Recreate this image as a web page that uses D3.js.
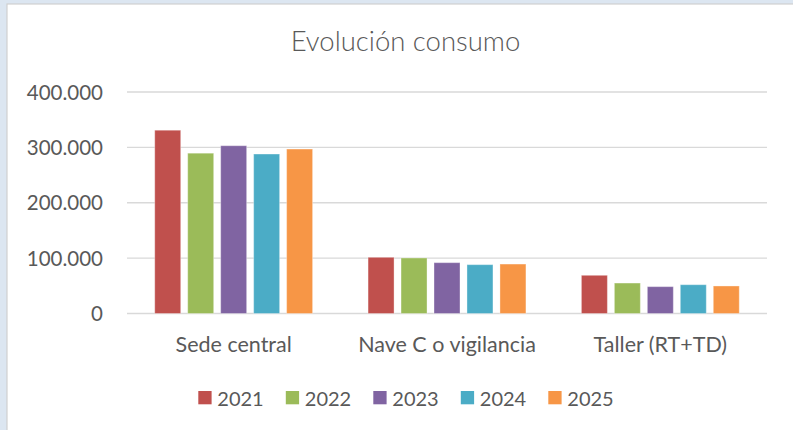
<!DOCTYPE html>
<html lang="es">
<head>
<meta charset="UTF-8">
<title>Evolución consumo</title>
<script src="https://d3js.org/d3.v7.min.js"></script>
<style>
    body { margin: 0; padding: 0; background: #dce6f1; overflow: hidden; }
    svg { display: block; }
    .lbl { font-family: Lato, "Open Sans", sans-serif; fill: #595959; }
</style>
</head>
<body>
<svg id="chart" width="793" height="430"></svg>
<script>
    // data
    const categories = ["Sede central", "Nave C o vigilancia", "Taller (RT+TD)"];
    const years = ["2021", "2022", "2023", "2024", "2025"];
    const values2021 = [331000, 101500, 69000];
    const values2022 = [289500, 100300, 55000];
    const values2023 = [303000, 91800, 48500];
    const values2024 = [288000, 88200, 52000];
    const values2025 = [297000, 89300, 49700];
    const yTicks = [0, 100000, 200000, 300000, 400000];
    const colors = ["#c0504d", "#9bbb59", "#8064a2", "#4bacc6", "#f79646"];

    const series = [values2021, values2022, values2023, values2024, values2025];

    const svg = d3.select("#chart");

    // frame: light blue strip on the left and top, white chart area
    svg.append("rect").attr("x", 0).attr("y", 0).attr("width", 793).attr("height", 430).attr("fill", "#dce6f1");
    svg.append("rect").attr("x", 7).attr("y", 4).attr("width", 800).attr("height", 440)
        .attr("fill", "#ffffff").attr("stroke", "#d0d0d0").attr("stroke-width", 1.2);

    const plot = { left: 127, right: 767, top: 92, bottom: 313.5 };

    const y = d3.scaleLinear().domain([0, 400000]).range([plot.bottom, plot.top]);
    const x0 = d3.scaleBand().domain(categories).range([plot.left, plot.right])
        .paddingInner(0.26).paddingOuter(0.13);
    const x1 = d3.scaleBand().domain(years).range([0, x0.bandwidth()])
        .paddingInner(0.212).paddingOuter(0);
    const color = d3.scaleOrdinal().domain(years).range(colors);

    const fmt = v => v === 0 ? "0" : d3.format(",")(v).replace(/,/g, ".");

    // gridlines
    svg.append("g").selectAll("line").data(yTicks).join("line")
        .attr("x1", plot.left).attr("x2", plot.right)
        .attr("y1", d => y(d)).attr("y2", d => y(d))
        .attr("stroke", "#d9d9d9").attr("stroke-width", 1.3);

    // y tick labels
    svg.append("g").selectAll("text").data(yTicks).join("text")
        .attr("class", "lbl")
        .attr("x", 103).attr("y", d => y(d)).attr("dy", "0.37em")
        .attr("text-anchor", "end").style("font-size", "20.5px")
        .text(fmt);

    // bars
    const rows = [];
    categories.forEach((c, i) => {
        years.forEach((yr, j) => rows.push({ cat: c, year: yr, value: series[j][i] }));
    });
    svg.append("g").selectAll("rect").data(rows).join("rect")
        .attr("x", d => x0(d.cat) + x1(d.year))
        .attr("y", d => y(d.value))
        .attr("width", x1.bandwidth())
        .attr("height", d => y(0) - y(d.value))
        .attr("fill", d => color(d.year))
        .attr("stroke", "#ffffff").attr("stroke-opacity", 0.35).attr("stroke-width", 1);

    // category labels
    svg.append("g").selectAll("text").data(categories).join("text")
        .attr("class", "lbl")
        .attr("x", d => x0(d) + x0.bandwidth() / 2).attr("y", 352)
        .attr("text-anchor", "middle").style("font-size", "21.5px")
        .text(d => d);

    // title
    svg.append("text").attr("class", "lbl")
        .attr("x", 405.5).attr("y", 51).attr("text-anchor", "middle")
        .style("font-size", "27.5px").style("font-weight", 300)
        .text("Evolución consumo");

    // legend
    const legend = svg.append("g").selectAll("g").data(years).join("g")
        .attr("transform", (d, i) => `translate(${198.3 + i * 87.5},391)`);
    legend.append("rect").attr("width", 13.3).attr("height", 13.3).attr("fill", d => color(d));
    legend.append("text").attr("class", "lbl")
        .attr("x", 19).attr("y", 14.6).style("font-size", "20px")
        .text(d => d);
</script>
</body>
</html>
